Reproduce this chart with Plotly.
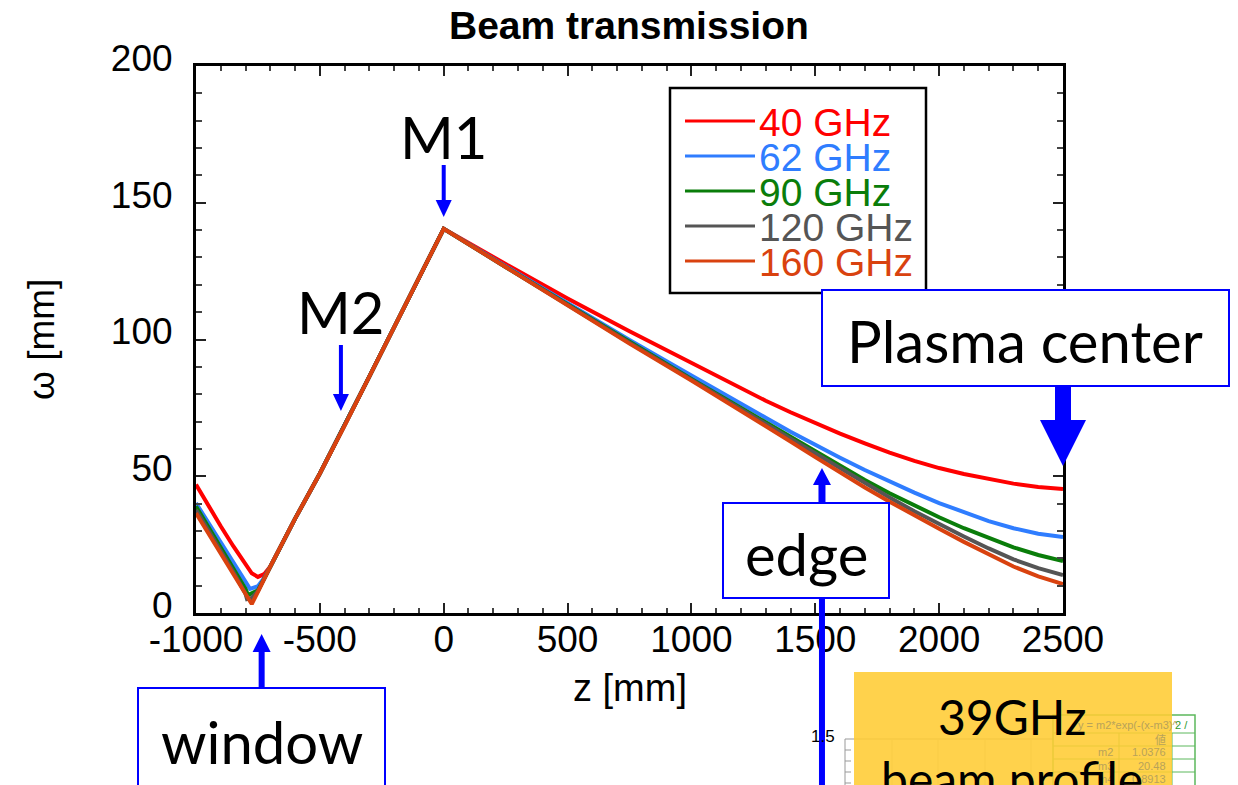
import plotly.graph_objects as go

# ---- beam radius along the transmission line (z in mm, omega in mm) ----
series_names = ["40 GHz", "62 GHz", "90 GHz", "120 GHz", "160 GHz"]
series_colors = ["#ff0000", "#2f7dff", "#0a7d0a", "#555555", "#d9420f"]

# shared sampling of the mirror-to-plasma leg
z_tail = [0, 250, 500, 750, 1000, 1100, 1200, 1300, 1400, 1500, 1600, 1700, 1800,
          1900, 2000, 2100, 2200, 2300, 2400, 2500]
# shared sampling of the window-to-M1 rise
z_rise = [-700, -600, -500, -400, -300, -200, -100]
w_rise = [17.0, 34.5, 51.0, 68.5, 86.5, 104.5, 122.5]

z_40_head = [-1000, -950, -900, -850, -800, -775, -750, -725]
w_40_head = [47.0, 39.0, 31.7, 24.5, 17.7, 14.5, 13.2, 14.2]
w_40_tail = [140.5, 127.6, 115.0, 103.0, 91.3, 86.6, 82.0, 77.6, 73.4, 69.4, 65.6, 62.0, 58.6,
             55.6, 53.0, 50.8, 48.9, 47.3, 46.1, 45.3]

z_62_head = [-1000, -950, -900, -850, -800, -782, -750, -725]
w_62_head = [40.2, 33.0, 25.8, 18.6, 11.6, 8.8, 9.8, 12.8]
w_62_tail = [140.5, 126.8, 113.2, 99.8, 86.8, 81.8, 76.6, 71.4, 66.3, 61.4, 56.8, 52.3, 48.0,
             44.0, 40.2, 36.8, 33.6, 31.0, 29.0, 27.8]

z_90_head = [-1000, -950, -900, -850, -800, -790, -750, -725]
w_90_head = [39.0, 31.5, 24.0, 16.5, 8.8, 6.6, 8.3, 12.5]
w_90_tail = [140.5, 126.5, 112.8, 99.0, 85.6, 80.3, 75.0, 69.6, 64.3, 59.0, 53.8, 48.6, 43.8,
             39.2, 35.0, 31.0, 27.3, 24.0, 21.2, 19.0]

z_120_head = [-1000, -950, -900, -850, -800, -794, -775, -750, -725]
w_120_head = [37.7, 30.2, 22.7, 15.2, 7.0, 5.1, 5.5, 8.0, 12.5]
w_120_tail = [140.5, 126.5, 112.5, 98.8, 85.3, 79.9, 74.5, 69.0, 63.5, 58.0, 52.6, 47.3, 42.2,
              37.2, 32.5, 28.0, 23.6, 19.6, 16.4, 13.9]

z_160_head = [-1000, -950, -900, -850, -800, -775, -750, -725]
w_160_head = [36.5, 29.0, 21.5, 14.0, 6.5, 3.3, 7.7, 12.4]
w_160_tail = [140.5, 126.5, 112.5, 98.5, 85.0, 79.5, 74.0, 68.4, 62.7, 57.0, 51.4, 45.9, 40.7,
              35.6, 30.8, 26.0, 21.3, 17.0, 13.4, 10.6]

heads_z = [z_40_head, z_62_head, z_90_head, z_120_head, z_160_head]
heads_w = [w_40_head, w_62_head, w_90_head, w_120_head, w_160_head]
tails_w = [w_40_tail, w_62_tail, w_90_tail, w_120_tail, w_160_tail]

x_ticks = [-1000, -500, 0, 500, 1000, 1500, 2000, 2500]
x_tick_text = ["-1000", "-500", "0", "500", "1000", "1500", "2000", "2500"]
y_ticks = [0, 50, 100, 150, 200]

# positions along z referred to by the notes
z_m1 = 0
z_m2 = -415
z_window = -735
z_edge = 1527
z_center = 2500

# ---- figure geometry (pixels) ----
FIG_W, FIG_H = 1238, 785
L, R, T, B = 196, 1063, 66, 613
PW, PH = R - L, B - T
X0, X1 = -1000, 2500

def px(x):
    return (x - L) / PW

def py(y):
    return (B - y) / PH

def zpx(z):
    return L + (z - X0) / (X1 - X0) * PW

AXIS_FONT = "Liberation Sans, Arial, sans-serif"
NOTE_FONT = "Lato, Calibri, sans-serif"
BLUE = "#0000ff"

fig = go.Figure()
for name, color, hz, hw, tw in zip(series_names, series_colors, heads_z, heads_w, tails_w):
    fig.add_trace(go.Scatter(x=hz + z_rise + z_tail, y=hw + w_rise + tw, mode="lines", name=name,
                             line=dict(color=color, width=4), showlegend=False))

axis_common = dict(
    showline=True, linecolor="black", linewidth=3, mirror="ticks",
    ticks="inside", ticklen=10, tickwidth=2, tickcolor="#222222",
    showgrid=False, zeroline=False,
    tickfont=dict(family=AXIS_FONT, size=37, color="black"),
)
fig.update_xaxes(range=[X0, X1], tickvals=x_ticks, ticktext=x_tick_text, ticklabelstandoff=-8,
                 minor=dict(dtick=100, ticklen=5, tickwidth=1.5, tickcolor="#444444", ticks="inside"),
                 **axis_common)
fig.update_yaxes(range=[0, 200], tickvals=y_ticks, ticklabelstandoff=13, ticklabelshift=-8,
                 minor=dict(dtick=10, ticklen=6, tickwidth=1.5, tickcolor="#444444", ticks="inside"),
                 **axis_common)

shapes = []
annotations = []

def seg(x0, y0, x1, y1, color, width):
    shapes.append(dict(type="line", xref="paper", yref="paper", layer="above",
                       x0=px(x0), y0=py(y0), x1=px(x1), y1=py(y1),
                       line=dict(color=color, width=width)))

def box(x0, y0, x1, y1, line_color, line_width, fill="white", opacity=1.0):
    shapes.append(dict(type="rect", xref="paper", yref="paper", layer="above",
                       x0=px(x0), y0=py(y0), x1=px(x1), y1=py(y1), opacity=opacity,
                       line=dict(color=line_color, width=line_width), fillcolor=fill))

def tri(xc, y_tip, y_base, half):
    path = (f"M {px(xc)},{py(y_tip)} L {px(xc - half)},{py(y_base)} "
            f"L {px(xc + half)},{py(y_base)} Z")
    shapes.append(dict(type="path", xref="paper", yref="paper", layer="above", path=path,
                       fillcolor=BLUE, line=dict(color=BLUE, width=0)))

def text(x, y, s, size, color="black", family=NOTE_FONT, xanchor="center", angle=0, bold=False):
    annotations.append(dict(xref="paper", yref="paper", x=px(x), y=py(y), text=s,
                            showarrow=False, xanchor=xanchor, yanchor="middle", textangle=angle,
                            font=dict(family=family, size=size, color=color,
                                      weight="bold" if bold else "normal")))

# ---- title and axis titles ----
text(629, 26, "Beam transmission", 39, family=AXIS_FONT, bold=True)
text(630, 688, "z [mm]", 38, family=AXIS_FONT)
text(41, 340, "ω [mm]", 37, family=AXIS_FONT, angle=-90)

# ---- legend ----
box(670, 88, 926, 293, "black", 2.5)
for i, (name, color) in enumerate(zip(series_names, series_colors)):
    yc = 122 + i * 35
    seg(685, yc - 1, 755, yc - 1, color, 3)
    text(757, yc, name, 39, color=color, family=AXIS_FONT, xanchor="left")

# ---- mirror labels ----
x_m1 = zpx(z_m1)
text(x_m1, 137, "M1", 58)
seg(x_m1, 165, x_m1, 202, BLUE, 4)
tri(x_m1, 217, 200, 8)

x_m2 = zpx(z_m2)
text(x_m2, 311, "M2", 58)
seg(x_m2, 345, x_m2, 396, BLUE, 4)
tri(x_m2, 411, 394, 8)

# ---- plasma center ----
x_c = zpx(z_center)
box(822, 290, 1229, 386, BLUE, 2)
text(1025, 340, "Plasma center", 58)
seg(x_c, 386, x_c, 422, BLUE, 16)
tri(x_c, 466, 420, 23)

# ---- edge ----
x_e = zpx(z_edge)
box(723, 503, 889, 598, BLUE, 2)
text(806, 553, "edge", 58)
seg(x_e, 503, x_e, 482, BLUE, 7)
tri(x_e, 468, 485, 9)
seg(x_e, 598, x_e, 800, BLUE, 6)

# ---- window ----
x_w = zpx(z_window)
box(138, 688, 385, 800, BLUE, 2)
text(262, 741, "window", 58)
seg(x_w, 688, x_w, 650, BLUE, 6)
tri(x_w, 634, 652, 9)

# ---- profile inset underneath the yellow note ----
GRID = "#c8c8c8"
seg(845, 739, 845, 800, "#999999", 1)
seg(845, 739, 1053, 739, "#999999", 1)
for gx in (892, 938, 985, 1031):
    seg(gx, 739, gx, 800, GRID, 1)
for gy in (750, 761, 772, 783):
    seg(845, gy, 851, gy, "#999999", 1)
text(823, 737, "1.5", 17, family=AXIS_FONT)

TGREEN = "#5cb85c"
box(1053, 715, 1195, 800, TGREEN, 1.5, fill="white")
for ty in (733, 746, 759, 772):
    seg(1053, ty, 1195, ty, TGREEN, 1)
for tx in (1119, 1172):
    seg(tx, 733, tx, 800, TGREEN, 1)

box(854, 672, 1172, 800, "rgba(0,0,0,0)", 0, fill="rgb(255,204,51)", opacity=0.88)

FADED = "#b8a25a"
text(1076, 725, "y = m2*exp(-(x-m3)^", 11, color=FADED, family=AXIS_FONT, xanchor="left")
text(1173, 725, "2 /", 11, color="#2e9a2e", family=AXIS_FONT, xanchor="left")
text(1168, 739, "値", 11, color=FADED, family="Noto Sans CJK JP", xanchor="right")
for row, (pn, pv) in enumerate([("m2", "1.0376"), ("m3", "20.48"), ("m4", "0.8913")]):
    yc = 752 + row * 13.5
    text(1115, yc, pn, 11, color=FADED, family=AXIS_FONT, xanchor="right")
    text(1168, yc, pv, 11, color=FADED, family=AXIS_FONT, xanchor="right")

text(1012, 716, "39GHz", 48)
text(1012, 778, "beam profile", 48)

fig.update_layout(
    width=FIG_W, height=FIG_H,
    margin=dict(l=L, r=FIG_W - R, t=T, b=FIG_H - B),
    paper_bgcolor="white", plot_bgcolor="white",
    shapes=shapes, annotations=annotations, showlegend=False,
)

fig.write_html("out.html")
